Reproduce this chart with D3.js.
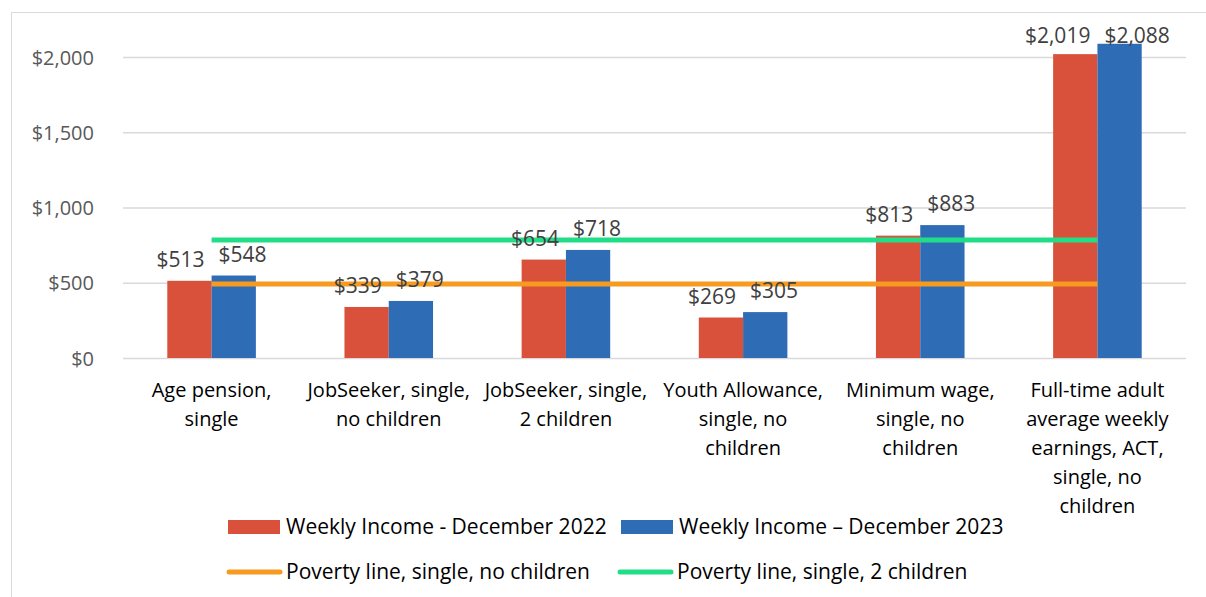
<!DOCTYPE html>
<html><head><meta charset="utf-8">
<script src="https://cdn.jsdelivr.net/npm/d3@7"></script>
<style>
body{margin:0;background:#fff;}
svg{display:block;font-family:"Open Sans",sans-serif;}
</style></head>
<body>
<script>
const categories = [
  ["Age pension,","single"],
  ["JobSeeker, single,","no children"],
  ["JobSeeker, single,","2 children"],
  ["Youth Allowance,","single, no","children"],
  ["Minimum wage,","single, no","children"],
  ["Full-time adult","average weekly","earnings, ACT,","single, no","children"]
];
const income2022 = [513, 339, 654, 269, 813, 2019];
const income2023 = [548, 379, 718, 305, 883, 2088];
const povertyNoChildren = [492, 492, 492, 492, 492, 492];
const povertyTwoChildren = [784, 784, 784, 784, 784, 784];
const yTicks = [0, 500, 1000, 1500, 2000];
const seriesNames = ["Weekly Income - December 2022", "Weekly Income \u2013 December 2023",
  "Poverty line, single, no children", "Poverty line, single, 2 children"];
const colors = ["#D9513A", "#2E6CB5", "#F79A20", "#22DD88"];

(function(){
const W = 1206, H = 597;
const svg = d3.select("body").append("svg").attr("width", W).attr("height", H);

svg.append("path").attr("d", "M11.5,597 V12.5 H1206").attr("fill","none").attr("stroke","#d9d9d9").attr("stroke-width",1);

const pL = 123, pR = 1186, pT = 57, pB = 358;
const x0 = d3.scaleBand().domain(d3.range(categories.length)).range([pL, pR]).paddingInner(0.5).paddingOuter(0.25);
const x1 = d3.scaleBand().domain([0,1]).range([0, x0.bandwidth()]);
const y = d3.scaleLinear().domain([0, 2000]).range([pB, pT]);
const fmt = v => "$" + d3.format(",")(v);

const yAxis = d3.axisLeft(y).tickValues(yTicks).tickFormat(fmt).tickSize(-(pR-pL)).tickPadding(29);
const gy = svg.append("g").attr("transform", `translate(${pL},0)`).call(yAxis);
gy.select(".domain").remove();
gy.selectAll(".tick line").attr("stroke", "#d9d9d9").attr("stroke-width", 1.3);
gy.selectAll(".tick text").attr("fill", "#595959").style("font-size", "20px").style("font-family","'Open Sans',sans-serif").attr("dy","0.35em");

const bars = [income2022, income2023];
bars.forEach((vals, s) => {
  svg.append("g").selectAll("rect").data(vals).join("rect")
    .attr("x", (d,i) => x0(i) + x1(s))
    .attr("y", d => y(d))
    .attr("width", x1.bandwidth())
    .attr("height", d => pB - y(d))
    .attr("fill", colors[s]);
});

const cx = i => x0(i) + x0.bandwidth()/2;
[povertyNoChildren, povertyTwoChildren].forEach((vals, s) => {
  svg.append("path").datum(vals)
    .attr("d", d3.line().x((d,i) => cx(i)).y(d => y(d)))
    .attr("fill","none").attr("stroke", colors[2+s]).attr("stroke-width", 5);
});

bars.forEach((vals, s) => {
  svg.append("g").selectAll("text").data(vals).join("text")
    .attr("x", (d,i) => cx(i) + (s===0 ? -7 : 7))
    .attr("y", d => Math.max(43, y(d) - 14))
    .attr("text-anchor", s===0 ? "end" : "start").attr("fill","#404040")
    .style("font-size","21px")
    .text(fmt);
});

const gx = svg.append("g");
categories.forEach((lines, i) => {
  const t = gx.append("text").attr("text-anchor","middle").attr("fill","#000").style("font-size","20px");
  lines.forEach((l, k) => t.append("tspan").attr("x", cx(i)).attr("y", 397 + k*29).text(l));
});

const leg = [
  {x:228, y:527, type:"rect", c:colors[0], t:seriesNames[0]},
  {x:621, y:527, type:"rect", c:colors[1], t:seriesNames[1]},
  {x:229, y:572, type:"line", c:colors[2], t:seriesNames[2]},
  {x:620, y:572, type:"line", c:colors[3], t:seriesNames[3]}
];
leg.forEach(l => {
  if (l.type === "rect") svg.append("rect").attr("x", l.x).attr("y", l.y-7).attr("width", 52).attr("height", 14).attr("fill", l.c);
  else svg.append("line").attr("x1", l.x).attr("x2", l.x+51).attr("y1", l.y).attr("y2", l.y).attr("stroke", l.c).attr("stroke-width", 5).attr("stroke-linecap","round");
  svg.append("text").attr("x", l.type === "rect" ? l.x+58 : l.x+57).attr("y", l.y).attr("dy","0.35em").attr("fill","#000")
    .style("font-size","21px").text(l.t);
});
})();
</script>
</body></html>
